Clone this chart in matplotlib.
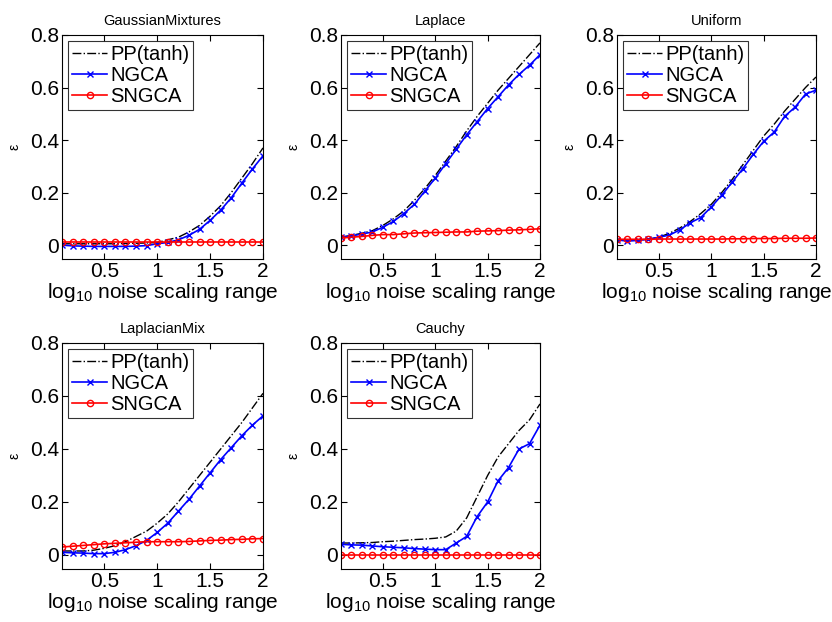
import numpy as np
import matplotlib
matplotlib.use("Agg")
import matplotlib.pyplot as plt

plt.rcParams['font.family'] = ['Liberation Sans', 'DejaVu Sans']
plt.rcParams['mathtext.fontset'] = 'custom'
plt.rcParams['mathtext.rm'] = 'Liberation Sans'
plt.rcParams['mathtext.it'] = 'Liberation Sans'

x = [0.1, 0.2, 0.3, 0.4, 0.5, 0.6, 0.7, 0.8, 0.9, 1.0,
     1.1, 1.2, 1.3, 1.4, 1.5, 1.6, 1.7, 1.8, 1.9, 2.0]

titles = ["GaussianMixtures", "Laplace", "Uniform", "LaplacianMix", "Cauchy"]

pp_gm = [0.005, 0.005, 0.005, 0.005, 0.005, 0.005, 0.006, 0.007, 0.008, 0.010,
         0.020, 0.030, 0.050, 0.075, 0.110, 0.150, 0.200, 0.255, 0.310, 0.370]
ngca_gm = [0.000, -0.003, -0.004, -0.005, -0.005, -0.005, -0.005, -0.004, -0.002, 0.005,
           0.010, 0.020, 0.037, 0.060, 0.094, 0.133, 0.180, 0.236, 0.290, 0.340]
sngca_gm = [0.012, 0.012, 0.012, 0.012, 0.012, 0.012, 0.012, 0.012, 0.012, 0.012,
            0.012, 0.012, 0.012, 0.012, 0.012, 0.012, 0.012, 0.012, 0.012, 0.012]

pp_la = [0.030, 0.037, 0.045, 0.055, 0.075, 0.100, 0.130, 0.170, 0.215, 0.265,
         0.320, 0.375, 0.435, 0.490, 0.540, 0.590, 0.635, 0.680, 0.725, 0.770]
ngca_la = [0.030, 0.035, 0.042, 0.050, 0.068, 0.090, 0.120, 0.155, 0.205, 0.255,
           0.310, 0.365, 0.420, 0.470, 0.520, 0.565, 0.610, 0.650, 0.685, 0.725]
sngca_la = [0.027, 0.030, 0.033, 0.037, 0.040, 0.040, 0.043, 0.046, 0.047, 0.048,
            0.049, 0.050, 0.050, 0.053, 0.054, 0.055, 0.057, 0.058, 0.060, 0.062]

pp_un = [0.020, 0.020, 0.020, 0.022, 0.030, 0.045, 0.065, 0.090, 0.120, 0.155,
         0.200, 0.250, 0.305, 0.360, 0.415, 0.460, 0.510, 0.555, 0.600, 0.640]
ngca_un = [0.020, 0.015, 0.018, 0.022, 0.030, 0.038, 0.058, 0.085, 0.105, 0.145,
           0.190, 0.240, 0.290, 0.345, 0.395, 0.430, 0.490, 0.525, 0.575, 0.590]
sngca_un = [0.022, 0.022, 0.022, 0.022, 0.023, 0.023, 0.023, 0.023, 0.023, 0.023,
            0.023, 0.024, 0.024, 0.025, 0.025, 0.025, 0.026, 0.026, 0.026, 0.027]

pp_lm = [0.015, 0.015, 0.015, 0.018, 0.025, 0.035, 0.050, 0.070, 0.090, 0.120,
         0.155, 0.200, 0.250, 0.300, 0.350, 0.400, 0.450, 0.500, 0.555, 0.610]
ngca_lm = [0.010, 0.008, 0.007, 0.005, 0.005, 0.010, 0.020, 0.035, 0.055, 0.085,
           0.120, 0.165, 0.210, 0.260, 0.310, 0.360, 0.405, 0.450, 0.490, 0.525]
sngca_lm = [0.030, 0.033, 0.036, 0.039, 0.042, 0.044, 0.046, 0.048, 0.050, 0.050,
            0.050, 0.050, 0.051, 0.053, 0.055, 0.056, 0.058, 0.059, 0.061, 0.062]

pp_ca = [0.045, 0.045, 0.046, 0.047, 0.050, 0.052, 0.055, 0.058, 0.060, 0.063,
         0.068, 0.090, 0.140, 0.220, 0.300, 0.370, 0.420, 0.470, 0.510, 0.570]
ngca_ca = [0.040, 0.038, 0.037, 0.034, 0.031, 0.029, 0.027, 0.024, 0.022, 0.020,
           0.020, 0.045, 0.070, 0.145, 0.200, 0.280, 0.330, 0.400, 0.420, 0.490]
sngca_ca = [0.0] * 20

series = [(pp_gm, ngca_gm, sngca_gm), (pp_la, ngca_la, sngca_la),
          (pp_un, ngca_un, sngca_un), (pp_lm, ngca_lm, sngca_lm),
          (pp_ca, ngca_ca, sngca_ca)]

fig = plt.figure(figsize=(8.32, 6.22), dpi=100)
W, H = 832, 622
boxes = [(62, 35, 263, 259), (341, 35, 540, 259), (617, 35, 816, 259),
         (62, 343, 263, 569), (341, 343, 540, 569)]

for (l, t, r, b), title, (pp, ng, sn) in zip(boxes, titles, series):
    ax = fig.add_axes([l / W, (H - b) / H, (r - l) / W, (b - t) / H])
    ax.plot(x, pp, color='black', linestyle='-.', linewidth=1.0, label='PP(tanh)')
    ax.plot(x, ng, color='#0000ff', linestyle='-', linewidth=1.2, marker='x',
            markersize=5, markeredgewidth=1.0, label='NGCA')
    ax.plot(x, sn, color='#ff0000', linestyle='-', linewidth=1.2, marker='o',
            markersize=4.5, markerfacecolor='none', markeredgewidth=1.0, label='SNGCA')
    ax.set_xlim(0.1, 2)
    ax.set_ylim(-0.053, 0.8)
    ax.set_xticks([0.5, 1, 1.5, 2])
    ax.set_xticklabels(['0.5', '1', '1.5', '2'])
    ax.set_yticks([0, 0.2, 0.4, 0.6, 0.8])
    ax.set_yticklabels(['0', '0.2', '0.4', '0.6', '0.8'])
    ax.tick_params(direction='in', top=True, right=True, labelsize=15, length=4, pad=2)
    ax.set_title(title, fontsize=10.5, pad=7)
    ax.set_xlabel(r'log$_{10}$ noise scaling range', fontsize=15, labelpad=0)
    ax.set_ylabel('ε', fontsize=10, labelpad=6)
    leg = ax.legend(loc='upper left', fontsize=14.5, frameon=True, fancybox=False,
                    edgecolor='black', borderaxespad=0.3, handlelength=1.75,
                    handletextpad=0.15, borderpad=0.2, labelspacing=0.1)
    leg.get_frame().set_linewidth(0.8)

fig.savefig('out.png', dpi=100)
